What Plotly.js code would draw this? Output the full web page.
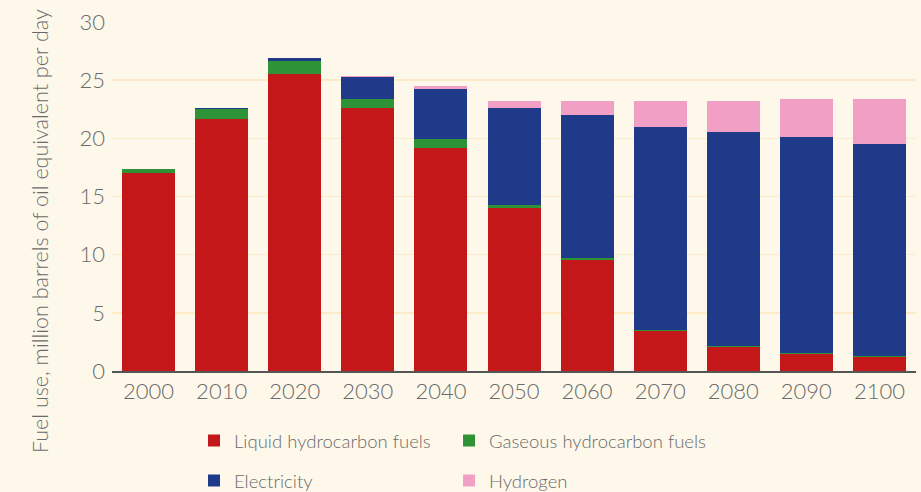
<!DOCTYPE html>
<html>
<head>
<meta charset="utf-8">
<script src="https://cdn.plot.ly/plotly-3.0.1.min.js"></script>
<style>html,body{margin:0;padding:0;background:#FEF8EB;}#chart{width:921px;height:492px;}</style>
</head>
<body>
<div id="chart"></div>
<script>
const years = ['2000','2010','2020','2030','2040','2050','2060','2070','2080','2090','2100'];
const liquid = [17.0, 21.65, 25.55, 22.65, 19.2, 14.05, 9.57, 3.45, 2.05, 1.5, 1.2];
const gaseous = [0.35, 0.85, 1.1, 0.75, 0.75, 0.22, 0.15, 0.1, 0.1, 0.06, 0.08];
const electricity = [0, 0.1, 0.25, 1.9, 4.3, 8.35, 12.3, 17.45, 18.4, 18.55, 18.25];
const hydrogen = [0, 0, 0, 0.08, 0.25, 0.6, 1.2, 2.2, 2.65, 3.3, 3.85];
const yTicks = [0, 5, 10, 15, 20, 25, 30];

const FONT = 'Lato, "Open Sans", sans-serif';
const GREY = '#6a6a6a';

function tr(name, y, color, legend) {
  return {type: 'bar', name: name, x: years, y: y, marker: {color: color, line: {width: 0}},
          legend: legend, hoverinfo: 'skip'};
}
const data = [
  tr('Liquid hydrocarbon fuels', liquid, '#C4171A', 'legend'),
  tr('Gaseous hydrocarbon fuels', gaseous, '#2E9236', 'legend2'),
  tr('Electricity', electricity, '#203A8A', 'legend3'),
  tr('Hydrogen', hydrogen, '#F29FC6', 'legend4')
];

const legendCommon = {orientation: 'h', xanchor: 'left', yanchor: 'middle',
  bgcolor: 'rgba(0,0,0,0)', xref: 'paper', yref: 'container',
  font: {family: FONT, size: 18.5, color: GREY, weight: 300}};

const col1 = 0.102, col2 = 0.4192, row1 = 0.1037, row2 = 0.0224;

const layout = {
  width: 921, height: 492,
  margin: {l: 112, r: 5, t: 22, b: 121},
  paper_bgcolor: '#FEF8EB', plot_bgcolor: '#FEF8EB',
  barmode: 'stack', bargap: 0.275,
  font: {family: FONT, color: GREY, size: 19, weight: 300},
  xaxis: {type: 'category', showgrid: false, showline: true, linecolor: '#555555', linewidth: 1.5,
          ticks: '', tickfont: {size: 22, color: GREY}, fixedrange: true, automargin: false},
  yaxis: {range: [0, 30], tickvals: yTicks, ticktext: yTicks.map(String), showgrid: true,
          gridcolor: '#FCEBC6', gridwidth: 1.5, zeroline: false, showline: false, ticks: '',
          ticklabelstandoff: 6, tickfont: {size: 22, color: GREY}, fixedrange: true, automargin: false},
  legend: Object.assign({}, legendCommon, {x: col1, y: row1}),
  legend2: Object.assign({}, legendCommon, {x: col2, y: row1}),
  legend3: Object.assign({}, legendCommon, {x: col1, y: row2}),
  legend4: Object.assign({}, legendCommon, {x: col2, y: row2}),
  annotations: [{
    text: 'Fuel use, million barrels of oil equivalent per day',
    xref: 'paper', yref: 'paper', x: -0.0896, y: 0.401, textangle: -90,
    showarrow: false, xanchor: 'center', yanchor: 'middle',
    font: {family: FONT, size: 21.5, color: GREY, weight: 300}
  }],
  showlegend: true
};

Plotly.newPlot('chart', data, layout, {displayModeBar: false, staticPlot: true});
</script>
</body>
</html>
